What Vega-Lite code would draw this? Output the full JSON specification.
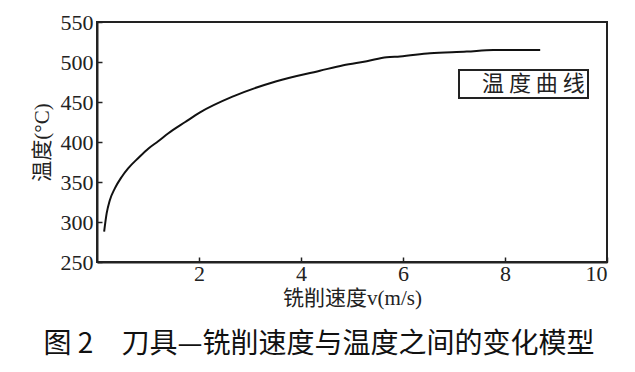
{
  "$schema": "https://vega.github.io/schema/vega-lite/v6.json",
  "width": 510,
  "height": 240,
  "autosize": "none",
  "padding": {"left": 97, "top": 22, "right": 28, "bottom": 110},
  "background": "white",
  "title": {
    "text": "图 2　刀具—铣削速度与温度之间的变化模型",
    "orient": "bottom",
    "font": "Noto Sans CJK SC",
    "fontSize": 28,
    "fontWeight": "normal",
    "color": "#111",
    "offset": 23,
    "anchor": "middle",
    "dx": -33
  },
  "config": {
    "view": {"stroke": "#222", "strokeWidth": 2},
    "legend": {"strokeColor": "#222", "strokeWidth": 2},
    "axis": {
      "labelFont": "Liberation Serif, Times New Roman, serif",
      "labelFontSize": 22,
      "labelColor": "#222",
      "titleFont": "Liberation Serif, Noto Sans CJK SC",
      "titleFontWeight": "normal",
      "titleColor": "#222",
      "titleFontSize": 21,
      "domainColor": "#222",
      "domainWidth": 2,
      "tickColor": "#222",
      "tickWidth": 1.5,
      "grid": false
    }
  },
  "data": {
    "values": [
      {"v": 0.14, "t": 288, "s": "温度曲线"},
      {"v": 0.19, "t": 311, "s": "温度曲线"},
      {"v": 0.25, "t": 327, "s": "温度曲线"},
      {"v": 0.35, "t": 342, "s": "温度曲线"},
      {"v": 0.48, "t": 356, "s": "温度曲线"},
      {"v": 0.61, "t": 367, "s": "温度曲线"},
      {"v": 0.81, "t": 380, "s": "温度曲线"},
      {"v": 1.01, "t": 392, "s": "温度曲线"},
      {"v": 1.2, "t": 401, "s": "温度曲线"},
      {"v": 1.4, "t": 411, "s": "温度曲线"},
      {"v": 1.73, "t": 425, "s": "温度曲线"},
      {"v": 2.02, "t": 437, "s": "温度曲线"},
      {"v": 2.67, "t": 457, "s": "温度曲线"},
      {"v": 3.52, "t": 476, "s": "温度曲线"},
      {"v": 4.37, "t": 489, "s": "温度曲线"},
      {"v": 4.83, "t": 496, "s": "温度曲线"},
      {"v": 5.29, "t": 501, "s": "温度曲线"},
      {"v": 5.68, "t": 506, "s": "温度曲线"},
      {"v": 5.94, "t": 507, "s": "温度曲线"},
      {"v": 6.53, "t": 511, "s": "温度曲线"},
      {"v": 7.25, "t": 513, "s": "温度曲线"},
      {"v": 7.77, "t": 515, "s": "温度曲线"},
      {"v": 8.69, "t": 515, "s": "温度曲线"}
    ]
  },
  "mark": {"type": "line", "strokeWidth": 2, "interpolate": "monotone", "color": "#111"},
  "encoding": {
    "x": {
      "field": "v",
      "type": "quantitative",
      "scale": {"domain": [0, 10], "nice": false},
      "axis": {
        "values": [2, 4, 6, 8, 10],
        "tickSize": -5,
        "labelPadding": 6,
        "labelFont": "Liberation Serif",
        "title": "铣削速度v(m/s)",
        "titlePadding": 3
      }
    },
    "y": {
      "field": "t",
      "type": "quantitative",
      "scale": {"domain": [250, 550], "nice": false, "zero": false},
      "axis": {
        "values": [250, 300, 350, 400, 450, 500, 550],
        "tickSize": -5,
        "labelPadding": 9,
        "labelFont": "Liberation Serif",
        "title": "温度(°C)",
        "titlePadding": 8
      }
    },
    "color": {
      "field": "s",
      "type": "nominal",
      "scale": {"range": ["#111"]},
      "legend": {
        "title": null,
        "orient": "none",
        "legendX": 362,
        "legendY": 48,
        "padding": 3,
        "symbolSize": 0,
        "symbolStrokeWidth": 0,
        "symbolOpacity": 0,
        "labelFont": "Noto Sans CJK SC",
        "labelFontSize": 22,
        "labelColor": "#222",
        "labelOffset": -2,
        "labelLimit": 300,
        "labelExpr": "join(split(datum.label, ''), ' ')"
      }
    }
  }
}
